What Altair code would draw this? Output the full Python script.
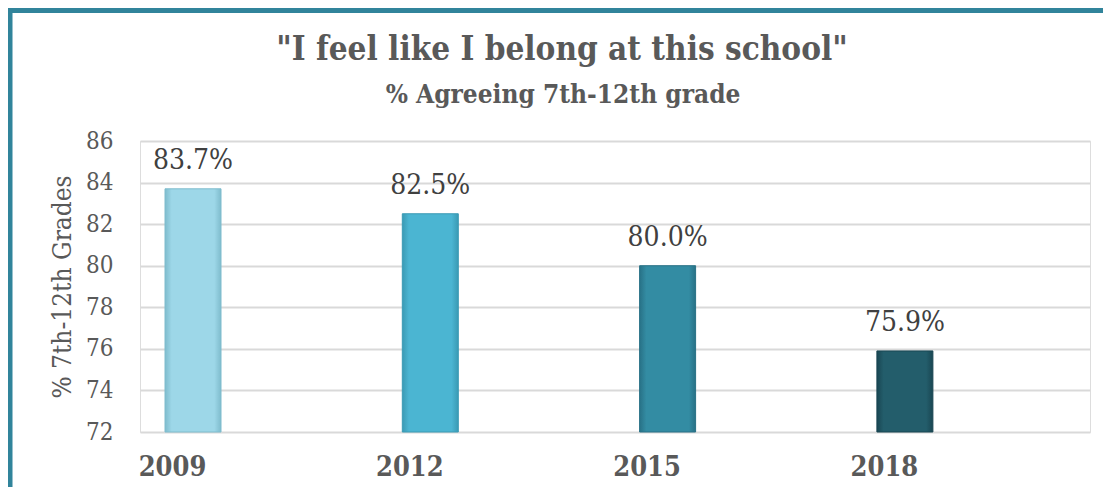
import altair as alt
import pandas as pd

years = [2009, 2012, 2015, 2018]
year_labels = ["2009", "2012", "2015", "2018"]
values = [83.7, 82.5, 80.0, 75.9]
value_labels = ["83.7%", "82.5%", "80.0%", "75.9%"]
bar_colors = ["#9DD7E8", "#4BB5D2", "#338CA3", "#235D6B"]
bar_edges = ["#7FBCCD", "#3A9AB4", "#287186", "#194652"]
y_ticks = [72, 74, 76, 78, 80, 82, 84, 86]
title_text = '"I feel like I belong at this school"'
subtitle_text = "% Agreeing 7th-12th grade"

FONT = "DejaVu Serif Condensed, DejaVu Serif"
TXT = "#595959"

df = pd.DataFrame({"year": years, "yl": year_labels, "value": values, "label": value_labels})

xscale = alt.Scale(domain=[2008.393, 2020.277], nice=False, zero=False)
yscale = alt.Scale(domain=[72, 86], nice=False, zero=False)

base = alt.Chart(df)

x_axis = alt.Axis(values=years, format="d", title=None, grid=False, domain=False,
                  ticks=False, labelFont=FONT, labelFontSize=27, labelFontWeight="bold",
                  labelColor=TXT, labelPadding=22, labelOffset=-21, labelFlush=False)
y_axis = alt.Axis(values=y_ticks, title="% 7th-12th Grades", grid=True, gridColor="#D9D9D9",
                  gridWidth=2, domain=False, ticks=False, labelFont=FONT, labelFontSize=24,
                  labelColor=TXT, labelPadding=27, titleFont=FONT, titleFontSize=26,
                  titleFontWeight="normal", titleColor=TXT, titlePadding=10)

bar_layers = []
for i, yl in enumerate(year_labels):
    grad = alt.Gradient(
        gradient="linear", x1=0, x2=1, y1=0, y2=0,
        stops=[
            alt.GradientStop(color=bar_edges[i], offset=0),
            alt.GradientStop(color=bar_colors[i], offset=0.12),
            alt.GradientStop(color=bar_colors[i], offset=0.88),
            alt.GradientStop(color=bar_edges[i], offset=1),
        ],
    )
    layer = base.transform_filter(alt.datum.yl == yl).mark_bar(
        size=56, color=grad, stroke=bar_edges[i], strokeWidth=1
    ).encode(
        x=alt.X("year:Q", scale=xscale, axis=x_axis),
        y=alt.Y("value:Q", scale=yscale, axis=y_axis),
        y2=alt.datum(72),
    )
    bar_layers.append(layer)

text = base.mark_text(font=FONT, fontSize=28, color="#404040", baseline="bottom", dy=-14).encode(
    x=alt.X("year:Q", scale=xscale, axis=x_axis),
    y=alt.Y("value:Q", scale=yscale, axis=y_axis),
    text="label:N",
)

one = pd.DataFrame({"k": [0]})
frame_top = alt.Chart(one).mark_rule(color="#31849B", strokeWidth=6).encode(
    x=alt.value(-134), x2=alt.value(980), y=alt.value(-131)
)
frame_left = alt.Chart(one).mark_rule(color="#31849B", strokeWidth=6).encode(
    x=alt.value(-130.5), y=alt.value(-134), y2=alt.value(400)
)
title = alt.Chart(one).mark_text(font=FONT, fontSize=33, fontWeight="bold", color=TXT,
                                 align="center", baseline="alphabetic").encode(
    x=alt.value(422), y=alt.value(-81), text=alt.value(title_text)
)
subtitle = alt.Chart(one).mark_text(font=FONT, fontSize=26, fontWeight="bold", color=TXT,
                                    align="center", baseline="alphabetic").encode(
    x=alt.value(423), y=alt.value(-38), text=alt.value(subtitle_text)
)

chart = alt.layer(frame_top, frame_left, title, subtitle, *bar_layers, text).properties(
    width=950,
    height=291,
    autosize=alt.AutoSizeParams(type="none"),
    padding={"left": 132, "top": 133, "right": 13, "bottom": 55},
).configure_view(stroke="transparent", strokeWidth=0).configure(background="white")

chart.save("out.html", embed_options={"renderer": "svg", "actions": False})
